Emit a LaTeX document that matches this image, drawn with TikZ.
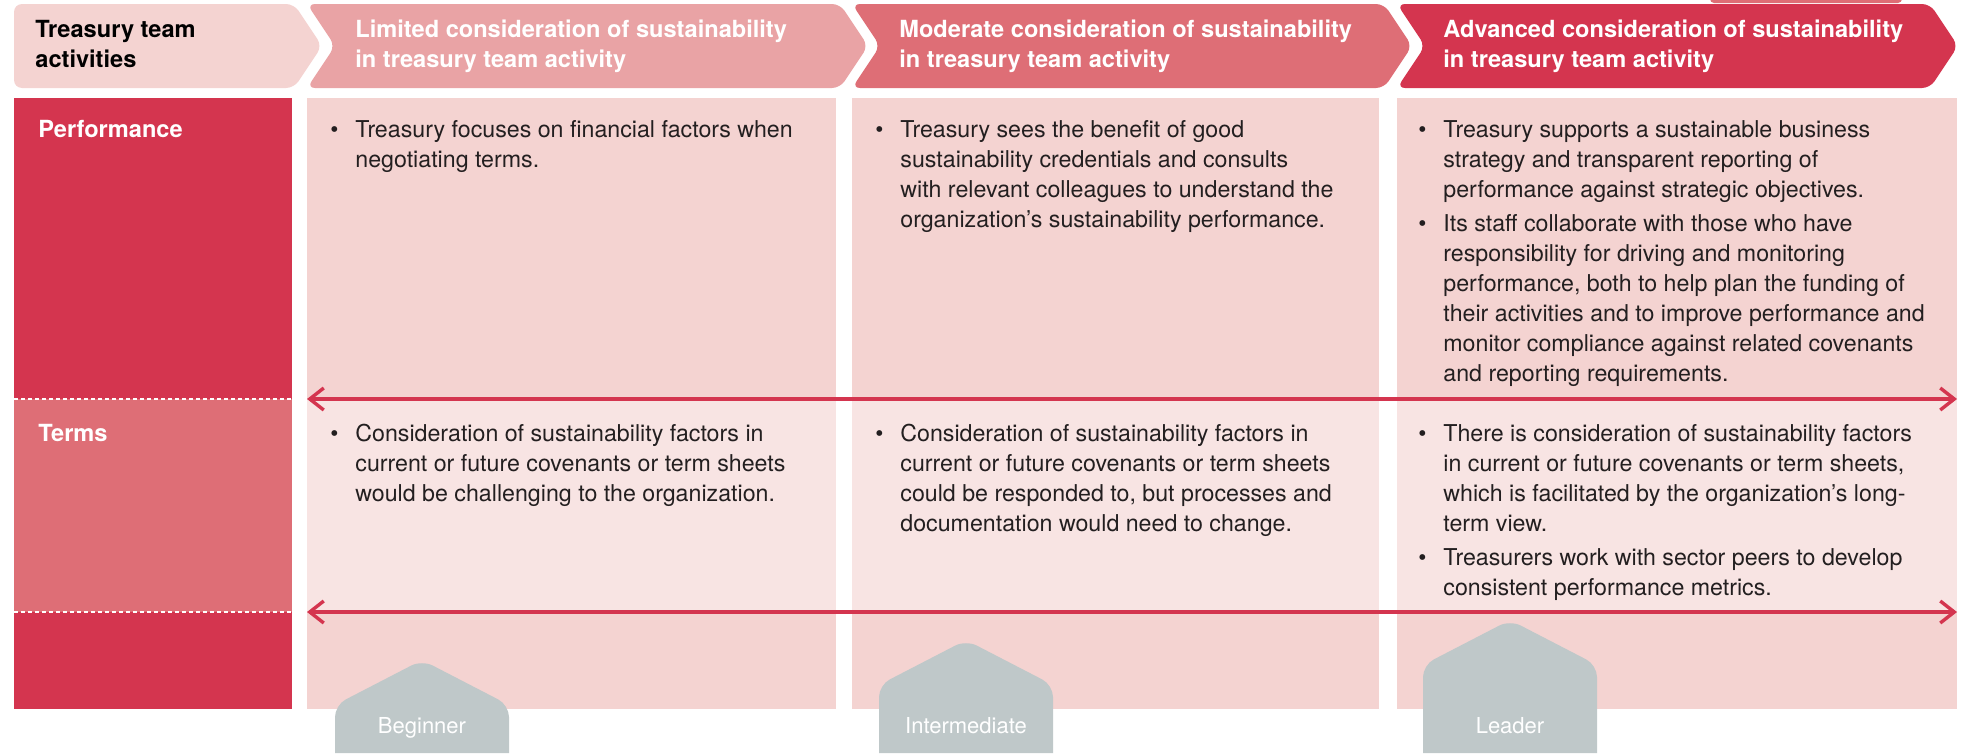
\documentclass[tikz,border=0pt]{standalone}
\usepackage{fontspec}
\setmainfont{TeX Gyre Heros}
\usetikzlibrary{arrows.meta}
\definecolor{cDark}{HTML}{D4354F}
\definecolor{cMid}{HTML}{DE6E76}
\definecolor{cLight}{HTML}{E9A3A5}
\definecolor{cPale}{HTML}{F4D3D1}
\definecolor{cPaler}{HTML}{F8E4E3}
\definecolor{cBadge}{HTML}{BFC8C9}
\definecolor{cText}{HTML}{231F20}
\newcommand{\mybul}{\textbullet}
\tikzset{
  bodytext/.style={anchor=base west, inner sep=0pt, text=cText, font=\fontsize{11.6}{15}\selectfont},
  headtext/.style={anchor=base west, inner sep=0pt, text=white, font=\bfseries\fontsize{11.8}{15}\selectfont},
  badgetext/.style={anchor=base, inner sep=0pt, text=white, font=\fontsize{11}{13}\selectfont},
  chev/.style={rounded corners=4pt},
  badgeshape/.style={fill=cBadge, rounded corners=6pt},
  arrowline/.style={draw=cDark, line width=1.7pt, {Straight Barb[length=7pt,width=11pt]}-{Straight Barb[length=7pt,width=11pt]}},
  dashline/.style={draw=white, line width=0.6pt, dash pattern=on 2.2pt off 1.3pt},
}
\begin{document}
\begin{tikzpicture}[x=0.5pt,y=-0.5pt]
\useasboundingbox (0,0) rectangle (1968,755);
% top strip
\fill[cMid, rounded corners=2pt] (1710,-6) rectangle (1902,3);
% header chevrons
\fill[cPale, chev] (14,4) -- (294,4) -- (322,46) -- (294,88) -- (14,88) -- cycle;
\fill[cLight, chev] (307,4) -- (840,4) -- (868,46) -- (840,88) -- (307,88) -- (335,46) -- cycle;
\fill[cMid, chev] (852,4) -- (1384,4) -- (1412,46) -- (1384,88) -- (852,88) -- (880,46) -- cycle;
\fill[cDark, chev] (1397,4) -- (1930,4) -- (1958,46) -- (1930,88) -- (1397,88) -- (1425,46) -- cycle;
% left column
\fill[cDark] (14,98) rectangle (292,399);
\fill[cMid] (14,399) rectangle (292,612);
\fill[cDark] (14,612) rectangle (292,709);
% body columns
\foreach \xa/\xb in {307/836, 852/1379, 1397/1957}{
  \fill[cPale] (\xa,98) rectangle (\xb,399);
  \fill[cPaler] (\xa,399) rectangle (\xb,612);
  \fill[cPale] (\xa,612) rectangle (\xb,709);
}
% dashed separators
\draw[dashline] (14,399) -- (292,399);
\draw[dashline] (14,612) -- (292,612);
% arrows
\coordinate (a1l) at (307,399);
\coordinate (a1r) at (1957,399);
\coordinate (a2l) at (307,612);
\coordinate (a2r) at (1957,612);
\draw[arrowline] (a1l) -- (a1r);
\draw[arrowline] (a2l) -- (a2r);
% header texts
\node[headtext, text=black] (h0) at (35,37) {\begin{tabular}[t]{@{}l@{}}Treasury team\\activities\end{tabular}};
\node[headtext] (h1) at (355,37) {\begin{tabular}[t]{@{}l@{}}Limited consideration of sustainability\\in treasury team activity\end{tabular}};
\node[headtext] (h2) at (899,37) {\begin{tabular}[t]{@{}l@{}}Moderate consideration of sustainability\\in treasury team activity\end{tabular}};
\node[headtext] (h3) at (1443,37) {\begin{tabular}[t]{@{}l@{}}Advanced consideration of sustainability\\in treasury team activity\end{tabular}};
% row labels
\node[headtext] (lp) at (38,137) {Performance};
\node[headtext] (lt) at (38,441) {Terms};
% performance row
\node[bodytext] (p1) at (330,137) {\begin{tabular}[t]{@{}p{12.5pt}@{}l@{}}\mybul & Treasury focuses on financial factors when\\ & negotiating terms.\end{tabular}};
\node[bodytext] (p2) at (875,137) {\begin{tabular}[t]{@{}p{12.5pt}@{}l@{}}\mybul & Treasury sees the benefit of good\\ & sustainability credentials and consults\\ & with relevant colleagues to understand the\\ & organization’s sustainability performance.\end{tabular}};
\node[bodytext] (p3) at (1418,137) {\begin{tabular}[t]{@{}p{12.5pt}@{}l@{}}\mybul & Treasury supports a sustainable business\\ & strategy and transparent reporting of\\ & performance against strategic objectives.\\[2pt]
\mybul & Its staff collaborate with those who have\\ & responsibility for driving and monitoring\\ & performance, both to help plan the funding of\\ & their activities and to improve performance and\\ & monitor compliance against related covenants\\ & and reporting requirements.\end{tabular}};
% terms row
\node[bodytext] (t1) at (330,441) {\begin{tabular}[t]{@{}p{12.5pt}@{}l@{}}\mybul & Consideration of sustainability factors in\\ & current or future covenants or term sheets\\ & would be challenging to the organization.\end{tabular}};
\node[bodytext] (t2) at (875,441) {\begin{tabular}[t]{@{}p{12.5pt}@{}l@{}}\mybul & Consideration of sustainability factors in\\ & current or future covenants or term sheets\\ & could be responded to, but processes and\\ & documentation would need to change.\end{tabular}};
\node[bodytext] (t3) at (1418,441) {\begin{tabular}[t]{@{}p{12.5pt}@{}l@{}}\mybul & There is consideration of sustainability factors\\ & in current or future covenants or term sheets,\\ & which is facilitated by the organization’s long-\\ & term view.\\[2pt]
\mybul & Treasurers work with sector peers to develop\\ & consistent performance metrics.\end{tabular}};
% badges
\fill[badgeshape] (335,753) -- (335,705) -- (422,660) -- (509,705) -- (509,753);
\fill[badgeshape] (879,753) -- (879,685) -- (966,640) -- (1053,685) -- (1053,753);
\fill[badgeshape] (1423,753) -- (1423,665) -- (1510,620) -- (1597,665) -- (1597,753);
\node[badgetext] (b1) at (422,733) {Beginner};
\node[badgetext] (b2) at (966,733) {Intermediate};
\node[badgetext] (b3) at (1510,733) {Leader};
\end{tikzpicture}
\end{document}
